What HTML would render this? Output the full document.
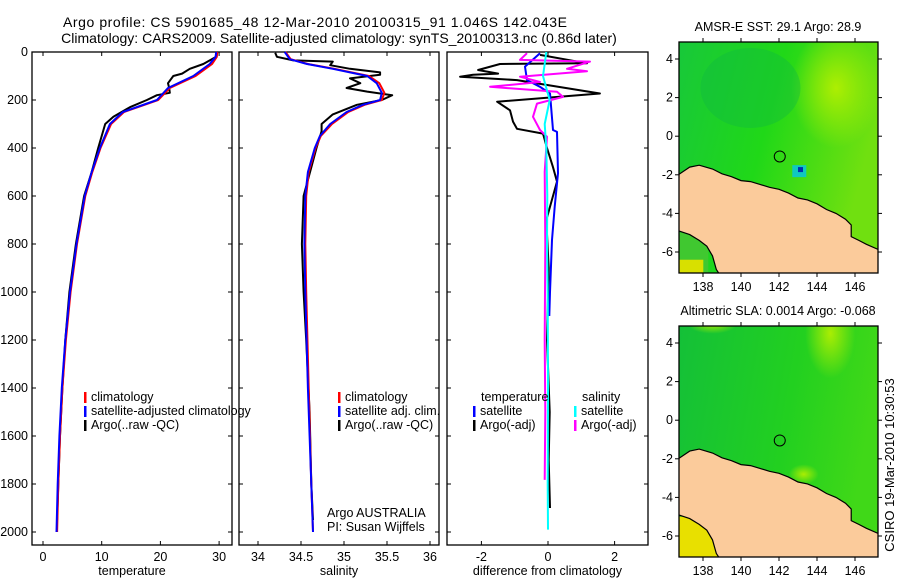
<!DOCTYPE html>
<html><head><meta charset="utf-8"><style>
html,body{margin:0;padding:0;background:#fff;}
svg{display:block;font-family:"Liberation Sans",sans-serif;}
</style></head><body>
<svg id="fig" width="900" height="580" viewBox="0 0 900 580" xmlns="http://www.w3.org/2000/svg">
<defs>
<linearGradient id="g1" x1="0" y1="0" x2="1" y2="0.3"><stop offset="0" stop-color="#18c83a"/><stop offset="0.5" stop-color="#20d818"/><stop offset="1" stop-color="#70e010"/></linearGradient>
<radialGradient id="y1" cx="0.5" cy="0.5" r="0.5"><stop offset="0" stop-color="#b8f000" stop-opacity="0.9"/><stop offset="1" stop-color="#b8f000" stop-opacity="0"/></radialGradient>
<linearGradient id="g2" x1="0" y1="0" x2="1" y2="0.2"><stop offset="0" stop-color="#14c038"/><stop offset="0.6" stop-color="#22d020"/><stop offset="1" stop-color="#40d818"/></linearGradient>
<clipPath id="c1"><rect x="679" y="42" width="199" height="231"/></clipPath>
<clipPath id="c2"><rect x="679" y="326" width="199" height="231"/></clipPath>
</defs>
<text x="63" y="27" font-size="14" textLength="504" lengthAdjust="spacing">Argo profile: CS 5901685_48 12-Mar-2010 20100315_91 1.046S 142.043E</text>
<text x="339" y="43" font-size="14" text-anchor="middle">Climatology: CARS2009. Satellite-adjusted climatology: synTS_20100313.nc (0.86d later)</text>
<g id="panels"></g>
<g id="maps"></g>
<text transform="translate(894,465) rotate(-90)" font-size="13" text-anchor="middle">CSIRO 19-Mar-2010 10:30:53</text>
</svg>
<script>
// ---- data ----
const tempDepth = [0,20,50,100,150,200,250,300,400,500,600,800,1000,1200,1400,1600,1800,2000];
const tempClim  = [29.7,29.6,28.8,26.0,21.6,19.6,13.8,11.6,9.8,8.4,7.2,5.8,4.7,3.9,3.3,2.9,2.6,2.4];
const tempSat   = [29.5,29.4,28.4,25.6,21.3,19.4,13.6,11.4,9.7,8.3,7.1,5.7,4.6,3.8,3.2,2.8,2.5,2.3];
const argoTDepth= [0,20,50,70,90,100,130,150,170,180,200,230,270,300,350,400,500,600,800,1000,1200,1400,1600,1800,1950];
const argoT     = [29.5,29.5,27.3,25.0,23.7,22.2,21.3,21.5,21.6,19.4,17.7,14.8,12.0,10.6,10.0,9.4,8.3,7.0,5.6,4.5,3.8,3.3,2.9,2.6,2.4];
const salDepth  = [0,30,50,70,100,130,170,200,220,250,300,350,400,500,600,800,1000,1400,1800,2000];
const salClim   = [34.32,34.38,34.58,34.89,35.29,35.41,35.47,35.44,35.24,35.05,34.86,34.73,34.67,34.59,34.56,34.55,34.56,34.59,34.62,34.64];
const salSat    = [34.31,34.37,34.57,34.87,35.27,35.38,35.44,35.42,35.22,35.03,34.84,34.72,34.66,34.58,34.55,34.54,34.55,34.58,34.62,34.64];
const argoSDepth= [3,20,35,40,55,70,85,95,110,130,150,165,180,200,220,260,300,330,400,600,800,1000,1200,1500,1800,1950];
const argoS     = [34.20,34.22,34.41,34.87,34.84,35.07,35.42,35.42,35.07,35.19,35.03,35.27,35.56,35.44,35.15,34.87,34.74,34.74,34.68,34.53,34.51,34.53,34.56,34.60,34.62,34.64];
const dTSatDepth= [5,61,117,145,173,325,333,505,645,783,1000,1100];
const dTSat     = [-0.24,-0.69,-0.63,-0.24,0.06,0.15,0.27,0.30,0.20,0.12,0.06,0.04];
const dTArgoDepth=[12,47,50,75,90,95,103,117,173,207,243,290,320,340,400,480,540,700,900,1200,1500,1700,1900];
const dTArgo    = [-0.24,1.17,-1.44,-2.10,-1.50,-2.25,-2.64,-0.93,1.56,-1.53,-1.14,-1.05,-0.93,-0.15,-0.03,0.15,0.27,-0.05,0.02,-0.03,0.05,0.02,0.06];
const dSSatDepth= [0,50,100,150,200,300,400,600,800,1000,1400,1800,1990];
const dSSat     = [-0.05,-0.10,-0.15,-0.05,0.05,-0.10,-0.05,-0.02,-0.03,-0.01,0.0,-0.01,0.0];
const dSArgoDepth=[5,33,40,70,80,103,125,145,166,187,215,270,325,353,500,800,1200,1500,1783];
const dSArgo    = [-0.63,-0.84,1.26,0.57,1.17,-0.84,-0.24,-1.74,0.27,0.45,-0.33,-0.45,-0.24,-0.03,-0.10,-0.08,-0.10,-0.08,-0.10];
const depthTicks= [0,200,400,600,800,1000,1200,1400,1600,1800,2000];
const tempTicks = [0,10,20,30];
const salTicks  = [34,34.5,35,35.5,36];
const diffTicks = [-2,0,2];
const latTicks  = [4,2,0,-2,-4,-6];
const lonTicks  = [138,140,142,144,146];

const NS="http://www.w3.org/2000/svg";
const svg=document.getElementById('fig');
function mk(tag,attrs,parent){const e=document.createElementNS(NS,tag);for(const k in attrs)e.setAttribute(k,attrs[k]);(parent||svg).appendChild(e);return e;}
const yDepth=d=>52+d*0.24;
const PT=52,PB=545;
function panel(name,x0,x1,xs,ticks,fmt,xlabel,showY){
  const g=mk('g',{});
  
  
  const f=mk('rect',{x:x0,y:PT,width:x1-x0,height:PB-PT,fill:'none',stroke:'#000','stroke-width':1.3},g);
  
  
  ticks.forEach(t=>{const x=xs(t);
    mk('line',{x1:x,x2:x,y1:PB,y2:PB-4,stroke:'#000'},g);mk('line',{x1:x,x2:x,y1:PT,y2:PT+4,stroke:'#000'},g);
    const tl=mk('text',{x:x,y:PB+16,'font-size':12.5,'text-anchor':'middle'},g);tl.textContent=fmt(t);
    
    });
  depthTicks.forEach(d=>{const y=yDepth(d);
    mk('line',{x1:x0,x2:x0+4,y1:y,y2:y,stroke:'#000'},g);mk('line',{x1:x1,x2:x1-4,y1:y,y2:y,stroke:'#000'},g);
    if(showY){const tl=mk('text',{x:28,y:y+4,'font-size':12.5,'text-anchor':'end'},g);tl.textContent=d;
      
      }});
  const xl=mk('text',{x:(x0+x1)/2,y:575,'font-size':12.5,'text-anchor':'middle'},g);xl.textContent=xlabel;
  
  
  return g;
}
function line(g,xs,vals,depths,color,name){
  const pts=vals.map((v,i)=>xs(v).toFixed(1)+','+yDepth(depths[i]).toFixed(1)).join(' ');
  const p=mk('polyline',{points:pts,fill:'none',stroke:color,'stroke-width':2,'stroke-linejoin':'round'},g);
  
  
}
function legend(g,x,y,color,label,name){
  mk('rect',{x:x,y:y-9,width:2.5,height:11,fill:color},g);
  const t=mk('text',{x:x+7,y:y,'font-size':12.5},g);t.textContent=label;
  
  
}
// temperature
const xT=v=>43+v*5.87;
const gT=panel('temperature-panel',32,232,xT,tempTicks,String,'temperature',true);
line(gT,xT,argoT,argoTDepth,'#000','argo-temperature-line');
line(gT,xT,tempClim,tempDepth,'#f00','climatology-temperature-line');
line(gT,xT,tempSat,tempDepth,'#00f','satellite-temperature-line');
legend(gT,84,401,'#f00','climatology','legend-climatology');
legend(gT,84,415,'#00f','satellite-adjusted climatology','legend-satellite-adjusted');
legend(gT,84,429,'#000','Argo(..raw -QC)','legend-argo');
// salinity
const xS=v=>258+(v-34)*86;
const gS=panel('salinity-panel',239,439,xS,salTicks,String,'salinity',false);
line(gS,xS,argoS,argoSDepth,'#000','argo-salinity-line');
line(gS,xS,salClim,salDepth,'#f00','climatology-salinity-line');
line(gS,xS,salSat,salDepth,'#00f','satellite-salinity-line');
legend(gS,338,401,'#f00','climatology','legend-climatology');
legend(gS,338,415,'#00f','satellite adj. clim.','legend-satellite-adj');
legend(gS,338,429,'#000','Argo(..raw -QC)','legend-argo');
let t1=mk('text',{x:327,y:517,'font-size':12.5},gS);t1.textContent='Argo AUSTRALIA';


let t2=mk('text',{x:327,y:531,'font-size':12.5},gS);t2.textContent='PI: Susan Wijffels';


// difference
const xD=v=>548+v*33.3;
const gD=panel('difference-panel',447,648,xD,diffTicks,String,'difference from climatology',false);
line(gD,xD,dTArgo,dTArgoDepth,'#000','argo-temperature-diff-line');
line(gD,xD,dTSat,dTSatDepth,'#00f','satellite-temperature-diff-line');
line(gD,xD,dSArgo,dSArgoDepth,'#f0f','argo-salinity-diff-line');
line(gD,xD,dSSat,dSSatDepth,'#0ff','satellite-salinity-diff-line');
let t3=mk('text',{x:481,y:401,'font-size':12.5},gD);t3.textContent='temperature';


let t4=mk('text',{x:582,y:401,'font-size':12.5},gD);t4.textContent='salinity';


legend(gD,473,415,'#00f','satellite','legend-temp-satellite');
legend(gD,473,429,'#000','Argo(-adj)','legend-temp-argo');
legend(gD,574,415,'#0ff','satellite','legend-sal-satellite');
legend(gD,574,429,'#f0f','Argo(-adj)','legend-sal-argo');

// maps
const coast=[[136.7,-2.0],[137.3,-1.6],[137.8,-1.5],[138.5,-1.7],[139,-1.95],[139.5,-2.1],[140,-2.3],[140.5,-2.35],[141,-2.5],[141.5,-2.65],[142,-2.75],[142.5,-2.95],[143,-3.2],[143.5,-3.3],[144,-3.5],[144.5,-3.8],[145,-4.0],[145.5,-4.3],[145.8,-4.6],[145.8,-5.2],[146.2,-5.4],[146.6,-5.6],[147.3,-5.9],[147.3,-7.2],[138.9,-7.2],[138.7,-6.9],[138.5,-6.2],[138.2,-5.7],[137.8,-5.4],[137.3,-5.1],[136.7,-4.9]];
function map(name,top,title,fill,clip,extra){
  const g=mk('g',{});
  
  
  const y0=top+17;
  const lx=lon=>703+(lon-138)*19, ly=lat=>y0+(4-lat)*19.3;
  const inner=mk('g',{'clip-path':'url(#'+clip+')'},g);
  mk('rect',{x:679,y:top,width:199,height:231,fill:fill},inner);
  extra(inner,lx,ly);
  const pts=coast.map(c=>lx(c[0]).toFixed(1)+','+ly(c[1]).toFixed(1)).join(' ');
  const land=mk('polygon',{points:pts,fill:'#fbcb9b',stroke:'#000','stroke-width':1.2},inner);
  
  
  const c=mk('circle',{cx:lx(142.04),cy:ly(-1.05),r:5.5,fill:'none',stroke:'#000','stroke-width':1},g);
  
  
  mk('rect',{x:679,y:top,width:199,height:231,fill:'none',stroke:'#000','stroke-width':1.3},g);
  latTicks.forEach(l=>{const y=ly(l);mk('line',{x1:679,x2:675,y1:y,y2:y,stroke:'#000'},g);mk('line',{x1:878,x2:882,y1:y,y2:y,stroke:'#000'},g);
    const t=mk('text',{x:673,y:y+4,'font-size':12.5,'text-anchor':'end'},g);t.textContent=l;
    
    });
  lonTicks.forEach(l=>{const x=lx(l);mk('line',{x1:x,x2:x,y1:top,y2:top-4,stroke:'#000'},g);mk('line',{x1:x,x2:x,y1:top+231,y2:top+235,stroke:'#000'},g);
    const t=mk('text',{x:x,y:top+249,'font-size':12.5,'text-anchor':'middle'},g);t.textContent=l;
    
    });
  const tt=mk('text',{x:778,y:top-11,'font-size':12.5,'text-anchor':'middle'},g);tt.textContent=title;
  
  
}
map('sst-map',42,'AMSR-E SST: 29.1  Argo: 28.9','url(#g1)','c1',(g,lx,ly)=>{
  mk('ellipse',{cx:lx(145),cy:ly(2.5),rx:45,ry:60,fill:'url(#y1)'},g);
  mk('ellipse',{cx:lx(140.5),cy:ly(2.5),rx:50,ry:40,fill:'#10b840',opacity:0.4},g);
  mk('rect',{x:lx(142.7),y:ly(-1.5),width:14,height:12,fill:'#10c8c0'},g);
  mk('rect',{x:lx(143),y:ly(-1.6),width:5,height:5,fill:'#0030b0'},g);
  mk('rect',{x:lx(136.7),y:ly(-5),width:30,height:50,fill:'#40c830'},g);
  mk('rect',{x:lx(136.7),y:ly(-6.4),width:25,height:20,fill:'#d8e000'},g);
});
map('sla-map',326,'Altimetric SLA: 0.0014  Argo: -0.068','url(#g2)','c2',(g,lx,ly)=>{
  mk('ellipse',{cx:lx(144.7),cy:ly(4.5),rx:25,ry:45,fill:'url(#y1)'},g);
  mk('ellipse',{cx:lx(138.5),cy:ly(5),rx:25,ry:10,fill:'url(#y1)'},g);
  mk('ellipse',{cx:lx(143.3),cy:ly(-2.8),rx:15,ry:10,fill:'url(#y1)'},g);
  mk('rect',{x:lx(136.7),y:ly(-5),width:40,height:60,fill:'#e8e000'},g);
});
</script>
</body></html>
